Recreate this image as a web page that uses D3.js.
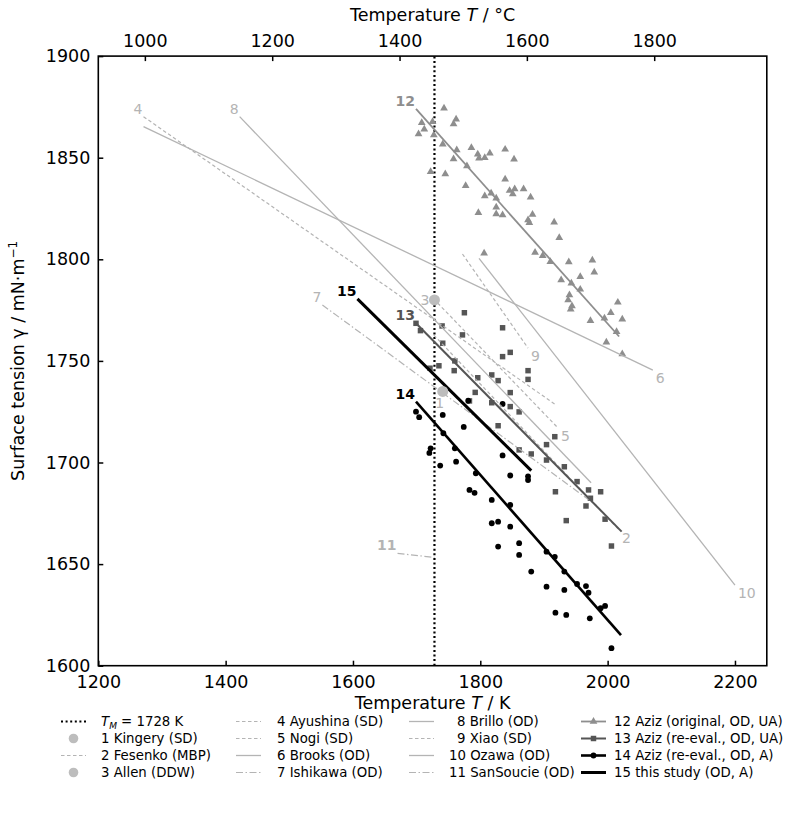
<!DOCTYPE html>
<html>
<head>
<meta charset="utf-8">
<script src="https://cdn.jsdelivr.net/npm/d3@7"></script>
<style>
  body { margin: 0; background: #fff; }
  text { font-family: "DejaVu Sans", sans-serif; }
</style>
</head>
<body>
<div id="chart"></div>
<script>
// melting temperature (K)
const tMelt = 1728;

// literature fits: [[T_start, gamma_start], [T_end, gamma_end]]  (K, mN/m)
const fesenko   = [[1727, 1762.7], [2018, 1666.8]];
const ayushina  = [[1271, 1870.2], [1919, 1728.3]];
const nogi      = [[1733, 1778.5], [1922, 1717.0]];
const brooks    = [[1271, 1865.3], [2071, 1745.5]];
const ishikawa  = [[1552, 1777.5], [1982, 1679.0]];
const brillo    = [[1422, 1870.2], [1974, 1690.0]];
const xiao      = [[1772, 1802.6], [1875, 1756.3]];
const ozawa     = [[1798, 1800.5], [2200, 1639.7]];
const sansoucie = [[1670, 1655.3], [1728, 1653.3]];
const aziz12Fit = [[1699, 1874.0], [2018, 1762.0]];
const aziz13Fit = [[1699, 1768.5], [2022, 1666.0]];
const aziz14Fit = [[1699, 1730.0], [2021, 1615.0]];
const thisStudy = [[1607, 1780.5], [1880, 1696.0]];

// single points
const kingery = [1741, 1735];
const allen   = [1728, 1780];

// Aziz data points (K, mN/m)
const aziz12T = [1743,1762,1758,1708,1712,1703,1725,1727,1741,1763,1758,1786,1796,1798,1807,1815,1839,1853,
  1722,1745,1779,1777,1839,1846,1851,1854,1868,1879,1807,1817,1825,1797,1825,1835,1825,1875,1877,1882,
  1916,1924,1806,1886,1898,1910,1939,1976,1979,1927,1957,1943,1957,1940,1938,1944,2016,1942,1973,1995,
  2005,2023,2014,1998,2023];
const aziz12G = [1874.3,1868.9,1866.6,1867.2,1864.0,1861.7,1867.7,1861.2,1856.6,1853.8,1849.4,1854.9,1851.7,
  1849.7,1850.0,1852.2,1854.1,1849.2,1843.1,1842.0,1845.9,1836.2,1839.4,1833.8,1832.1,1834.6,1834.6,1830.5,
  1831.2,1832.5,1830.0,1822.9,1822.3,1821.8,1825.6,1819.3,1818.0,1822.1,1818.2,1810.6,1803.0,1803.3,1801.8,
  1798.8,1798.7,1799.5,1793.6,1789.8,1791.4,1788.2,1785.2,1782.4,1780.0,1777.0,1778.8,1775.4,1769.8,1771.0,
  1773.7,1770.5,1764.4,1759.2,1753.4];

const aziz13T = [1775,1740,1835,1699,1706,1772,1741,1835,1847,1875,1875,1760,1759,1735,1721,1796,1792,1818,
  1828,1847,1818,1783,1847,1861,1828,1917,1904,1861,1880,1904,1932,1952,1970,1989,1918,1973,1966,1935,
  1996,2006];
const aziz13G = [1773.7,1767.2,1766.3,1768.5,1764.9,1762.8,1758.7,1752.1,1754.2,1745.2,1740.9,1750.0,1745.2,
  1747.6,1746.4,1741.7,1734.5,1743.1,1740.3,1734.4,1729.4,1730.3,1727.5,1724.9,1718.1,1712.7,1708.8,1706.2,
  1704.2,1701.2,1697.9,1690.6,1686.5,1685.6,1685.6,1682.4,1678.6,1671.4,1672.1,1658.9];

const aziz14T = [1699,1704,1741,1774,1722,1720,1737,1762,1760,1742,1781,1835,1835,1847,1875,1875,1793,1783,
  1791,1818,1818,1828,1847,1847,1828,1861,1861,1880,1904,1917,1904,1932,1932,1952,1966,1970,1918,1935,
  1972,1989,1996,2006];
const aziz14G = [1725.0,1722.3,1723.4,1717.5,1707.0,1704.7,1698.5,1700.4,1707.0,1714.4,1730.4,1728.8,1703.5,
  1693.6,1693.2,1691.4,1694.7,1686.5,1685.1,1681.6,1670.1,1670.9,1668.4,1679.1,1658.6,1660.3,1654.5,1646.3,
  1656.1,1653.6,1638.9,1637.3,1646.3,1640.2,1639.2,1635.9,1626.1,1625.0,1623.3,1628.3,1629.4,1608.6];

// axes
const xDomain = [1200, 2250];
const yDomain = [1600, 1900];
const kTicks = [1200, 1400, 1600, 1800, 2000, 2200];
const cTicks = [1000, 1200, 1400, 1600, 1800];
const yTicks = [1600, 1650, 1700, 1750, 1800, 1850, 1900];

// legend texts (column by column)
const legendLabels = ["T_M = 1728 K", "1 Kingery (SD)", "2 Fesenko (MBP)", "3 Allen (DDW)",
  "4 Ayushina (SD)", "5 Nogi (SD)", "6 Brooks (OD)", "7 Ishikawa (OD)",
  "8 Brillo (OD)", "9 Xiao (SD)", "10 Ozawa (OD)", "11 SanSoucie (OD)",
  "12 Aziz (original, OD, UA)", "13 Aziz (re-eval., OD, UA)", "14 Aziz (re-eval., OD, A)", "15 this study (OD, A)"];

const W = 799, H = 813;
const pL = 98.3, pR = 766.8, pT = 56.1, pB = 665.7;
const light = "#b4b4b4", mid = "#8e8e8e", dark = "#555555";
const fs = 17.5;

const svg = d3.select("#chart").append("svg")
    .attr("width", W).attr("height", H);

const x = d3.scaleLinear().domain(xDomain).range([pL, pR]);
const xC = d3.scaleLinear().domain(xDomain.map(d => d - 273.15)).range([pL, pR]);
const y = d3.scaleLinear().domain(yDomain).range([pB, pT]);

// style of each fitted line
const lines = [
  {d: fesenko,   id: "2",  color: light, w: 1.2, dash: "3.5,2.5",   lab: "end"},
  {d: ayushina,  id: "4",  color: light, w: 1.2, dash: "3.5,2.5",   lab: "start"},
  {d: nogi,      id: "5",  color: light, w: 1.2, dash: "3.5,2.5",   lab: "end"},
  {d: brooks,    id: "6",  color: light, w: 1.3, dash: null,        lab: "end"},
  {d: ishikawa,  id: "7",  color: light, w: 1.2, dash: "7,2.5,1.5,2.5", lab: "start"},
  {d: brillo,    id: "8",  color: light, w: 1.3, dash: null,        lab: "start"},
  {d: xiao,      id: "9",  color: light, w: 1.2, dash: "3.5,2.5",   lab: "end"},
  {d: ozawa,     id: "10", color: light, w: 1.3, dash: null,        lab: "end"},
  {d: sansoucie, id: "11", color: light, w: 1.2, dash: "7,2.5,1.5,2.5", lab: "start", bold: true},
  {d: aziz12Fit, id: "12", color: mid,   w: 1.8, dash: null,        lab: "start", bold: true},
  {d: aziz13Fit, id: "13", color: dark,  w: 2.0, dash: null,        lab: "start", bold: true},
  {d: aziz14Fit, id: "14", color: "#000", w: 2.6, dash: null,       lab: "start", bold: true},
  {d: thisStudy, id: "15", color: "#000", w: 3.0, dash: null,       lab: "start", bold: true}
];

const plot = svg.append("g");

// vertical melting point line
plot.append("line")
    .attr("x1", x(tMelt)).attr("x2", x(tMelt))
    .attr("y1", y(yDomain[0])).attr("y2", y(yDomain[1]))
    .attr("stroke", "#000").attr("stroke-width", 2.2)
    .attr("stroke-dasharray", "2,2.6");

// scatter points
const tri = d3.symbol().type(d3.symbolTriangle).size(26);
const sq = d3.symbol().type(d3.symbolSquare).size(30);

plot.selectAll(".p12").data(aziz12T).enter().append("path")
    .attr("transform", (d, i) => `translate(${x(d)},${y(aziz12G[i])})`)
    .attr("d", tri).attr("fill", mid);
plot.selectAll(".p13").data(aziz13T).enter().append("path")
    .attr("transform", (d, i) => `translate(${x(d)},${y(aziz13G[i])})`)
    .attr("d", sq).attr("fill", dark);
plot.selectAll(".p14").data(aziz14T).enter().append("circle")
    .attr("cx", d => x(d)).attr("cy", (d, i) => y(aziz14G[i]))
    .attr("r", 2.9).attr("fill", "#000");

// fitted lines
lines.forEach(l => {
  plot.append("line")
      .attr("x1", x(l.d[0][0])).attr("y1", y(l.d[0][1]))
      .attr("x2", x(l.d[1][0])).attr("y2", y(l.d[1][1]))
      .attr("stroke", l.color).attr("stroke-width", l.w)
      .attr("stroke-dasharray", l.dash);
  let t = plot.append("text")
      .attr("font-size", 14)
      .attr("fill", l.id === "12" ? mid : l.color)
      .attr("font-weight", l.bold ? "bold" : null)
      .text(l.id);
  if (l.lab === "start") {
    t.attr("x", x(l.d[0][0]) - 1).attr("y", y(l.d[0][1]) - 3).attr("text-anchor", "end");
  } else {
    t.attr("x", x(l.d[1][0]) + 3).attr("y", y(l.d[1][1]) + 13);
  }
});

// Kingery and Allen single points
plot.append("circle").attr("cx", x(kingery[0])).attr("cy", y(kingery[1])).attr("r", 5.5).attr("fill", "#bdbdbd");
plot.append("text").attr("x", x(kingery[0]) - 3).attr("y", y(kingery[1]) + 17)
    .attr("text-anchor", "middle").attr("font-size", 14).attr("fill", light).text("1");
plot.append("circle").attr("cx", x(allen[0])).attr("cy", y(allen[1])).attr("r", 5.5).attr("fill", "#bdbdbd");
plot.append("text").attr("x", x(allen[0]) - 5).attr("y", y(allen[1]) + 5)
    .attr("text-anchor", "end").attr("font-size", 14).attr("fill", light).text("3");

// axes, ticks pointing inward
const fmt = d3.format("d");
svg.append("g")
    .attr("transform", `translate(0,${pB})`)
    .call(d3.axisBottom(x).tickValues(kTicks).tickFormat(fmt).tickSizeInner(-5).tickSizeOuter(0).tickPadding(10))
    .call(g => g.select(".domain").remove());
svg.append("g")
    .attr("transform", `translate(${pL},0)`)
    .call(d3.axisLeft(y).tickValues(yTicks).tickFormat(fmt).tickSizeInner(-5).tickSizeOuter(0).tickPadding(8))
    .call(g => g.select(".domain").remove());
svg.append("g")
    .attr("transform", `translate(0,${pT})`)
    .call(d3.axisTop(xC).tickValues(cTicks).tickFormat(fmt).tickSizeInner(-5).tickSizeOuter(0).tickPadding(9))
    .call(g => g.select(".domain").remove());
svg.selectAll(".tick text").attr("font-size", fs).attr("font-family", "DejaVu Sans").attr("fill", "#000");
svg.selectAll(".tick line").attr("stroke-width", 1.5);

// frame
svg.append("rect")
    .attr("x", pL).attr("y", pT)
    .attr("width", pR - pL).attr("height", pB - pT)
    .attr("fill", "none").attr("stroke", "#000").attr("stroke-width", 1.6);

// axis titles
const xt = svg.append("text").attr("x", (pL + pR) / 2).attr("y", 709)
    .attr("text-anchor", "middle").attr("font-size", fs);
xt.append("tspan").text("Temperature ");
xt.append("tspan").attr("font-style", "italic").text("T");
xt.append("tspan").text(" / K");

const tt = svg.append("text").attr("x", (pL + pR) / 2).attr("y", 21)
    .attr("text-anchor", "middle").attr("font-size", fs);
tt.append("tspan").text("Temperature ");
tt.append("tspan").attr("font-style", "italic").text("T");
tt.append("tspan").text(" / °C");

const yt = svg.append("text")
    .attr("transform", `translate(24,${(pT + pB) / 2}) rotate(-90)`)
    .attr("text-anchor", "middle").attr("font-size", fs);
yt.append("tspan").text("Surface tension γ / mN·m");
yt.append("tspan").attr("dy", -7).attr("font-size", 12).text("−1");

// legend
const colX = [61, 236, 409, 581];
const textX = [101, 277, 449, 614];
const rowY = [726, 743, 760, 777];
const legendStyle = [
  {type: "line", color: "#000", w: 2.2, dash: "2,2.6"},
  {type: "dot", color: "#bdbdbd"},
  {type: "line", color: light, w: 1.2, dash: "3.5,2.5"},
  {type: "dot", color: "#bdbdbd"},
  {type: "line", color: light, w: 1.2, dash: "3.5,2.5"},
  {type: "line", color: light, w: 1.2, dash: "3.5,2.5"},
  {type: "line", color: light, w: 1.3},
  {type: "line", color: light, w: 1.2, dash: "7,2.5,1.5,2.5"},
  {type: "line", color: light, w: 1.3},
  {type: "line", color: light, w: 1.2, dash: "3.5,2.5"},
  {type: "line", color: light, w: 1.3},
  {type: "line", color: light, w: 1.2, dash: "7,2.5,1.5,2.5"},
  {type: "line", color: mid, w: 1.8, marker: "tri"},
  {type: "line", color: dark, w: 2.0, marker: "sq"},
  {type: "line", color: "#000", w: 2.6, marker: "circ"},
  {type: "line", color: "#000", w: 3.0}
];

const legend = svg.append("g");
legendLabels.forEach((lab, i) => {
  const c = Math.floor(i / 4), r = i % 4;
  const s = legendStyle[i];
  const x0 = colX[c], yy = rowY[r] - 4.5;
  if (s.type === "dot") {
    legend.append("circle").attr("cx", x0 + 12.5).attr("cy", yy).attr("r", 4.8).attr("fill", s.color);
  } else {
    legend.append("line").attr("x1", x0).attr("x2", x0 + 25).attr("y1", yy).attr("y2", yy)
        .attr("stroke", s.color).attr("stroke-width", s.w).attr("stroke-dasharray", s.dash || null);
    if (s.marker === "tri") {
      legend.append("path").attr("transform", `translate(${x0 + 12.5},${yy})`).attr("d", tri).attr("fill", s.color);
    } else if (s.marker === "sq") {
      legend.append("path").attr("transform", `translate(${x0 + 12.5},${yy})`).attr("d", sq).attr("fill", s.color);
    } else if (s.marker === "circ") {
      legend.append("circle").attr("cx", x0 + 12.5).attr("cy", yy).attr("r", 2.9).attr("fill", s.color);
    }
  }
  const num = lab.split(" ")[0];
  const tx = (c === 2 && num.length === 1) ? textX[c] + 8 : textX[c];
  const t = legend.append("text").attr("x", tx).attr("y", rowY[r]).attr("font-size", 13.3);
  if (i === 0) {
    t.append("tspan").attr("font-style", "italic").text("T");
    t.append("tspan").attr("font-style", "italic").attr("font-size", 9).attr("dy", 3).text("M");
    t.append("tspan").attr("dy", -3).text(" = 1728 K");
  } else {
    t.text(lab);
  }
});
</script>
</body>
</html>
